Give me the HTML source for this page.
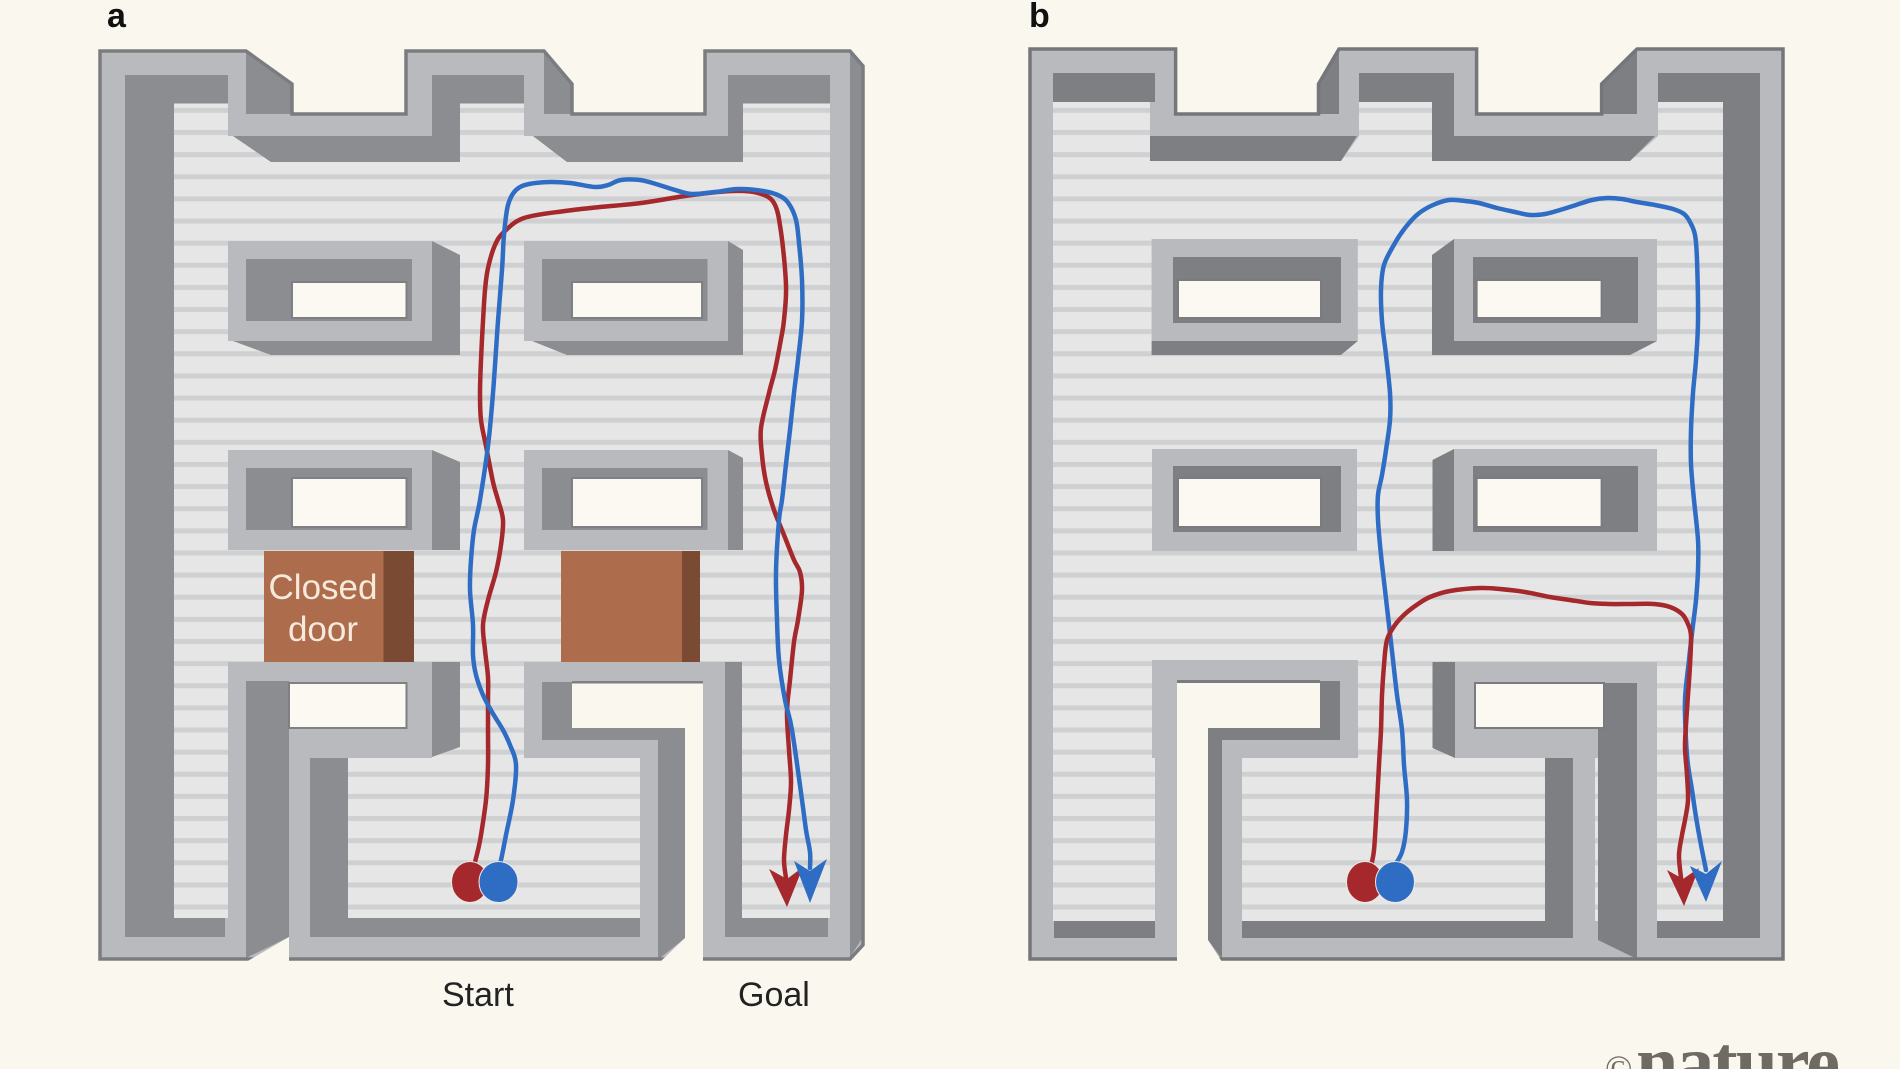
<!DOCTYPE html>
<html><head><meta charset="utf-8"><style>
html,body{margin:0;padding:0;background:#faf8ee;overflow:hidden}
svg{display:block}
</style></head><body>
<svg width="1900" height="1069" viewBox="0 0 1900 1069" xmlns="http://www.w3.org/2000/svg">
<defs>
<pattern id="fl" patternUnits="userSpaceOnUse" x="0" y="130" width="1900" height="22.13">
<rect width="1900" height="22.13" fill="#e6e6e7"/><rect width="1900" height="5" fill="#cfd0d2"/>
</pattern>
</defs>
<rect width="1900" height="1069" fill="#faf8ee"/>

<!-- ================= PANEL A ================= -->
<g>
<polygon fill="#b9babd" points="100,51 246,51 292,84 292,114 406,114 406,51 544,51 572,84 572,114 705,114 705,51 850,51 863,66 863,945 850,959 100,959"/>
<rect x="174" y="103.5" width="656" height="814.5" fill="url(#fl)"/>
<g fill="#b9babd">
<polygon points="228,103.5 460,103.5 460,162 271,162 233,136 228,136"/>
<polygon points="524,103.5 743,103.5 743,162 567,162 533,136 524,136"/>
<rect x="228" y="241" width="204" height="100"/>
<rect x="524" y="241" width="204" height="100"/>
<rect x="228" y="450" width="204" height="100"/>
<rect x="524" y="450" width="204" height="100"/>
<rect x="228" y="662" width="204" height="96"/>
<rect x="228" y="758" width="18" height="160"/>
<rect x="289" y="758" width="21" height="160"/>
<rect x="524" y="662" width="201" height="96"/>
<rect x="640" y="758" width="18" height="160"/>
<rect x="703" y="758" width="22" height="160"/>
</g>
<rect x="292" y="100" width="114" height="14" fill="#faf8ee"/>
<rect x="572" y="100" width="133" height="14" fill="#faf8ee"/>
<g fill="#8c8d90">
<polygon points="125,75 228,75 228,103.5 174,103.5 174,918 225,918 225,937 125,937"/>
<polygon points="246,51 292,84 292,114 246,114"/>
<polygon points="233,136 432,136 432,75 524,75 524,103.5 460,103.5 460,162 271,162"/>
<polygon points="544,51 572,84 572,114 544,114"/>
<polygon points="533,136 728,136 728,75 830,75 830,103.5 743,103.5 743,162 567,162"/>
<polygon points="850,53 863,68 863,937 850,957"/>
<polygon points="432,241 460,255 460,355 271,355 233,341 432,341"/>
<polygon points="728,241 743,250 743,355 567,355 532,341 728,341"/>
<polygon points="432,450 460,462 460,550 432,550"/>
<polygon points="728,450 743,458 743,550 728,550"/>
<rect x="246" y="259" width="166" height="62"/>
<rect x="542" y="259" width="165.5" height="62"/>
<rect x="246" y="468" width="166" height="62"/>
<rect x="542" y="468" width="165.5" height="62"/>
<polygon points="432,662 460,662 460,747 432,757"/>
<polygon points="246,681 289,681 289,937 246,958"/>
<polygon points="310,758 348,758 348,918 640,918 640,937 310,937"/>
<polygon points="542,682 572,682 572,728 685,728 685,938 660,958 658,958 658,740 542,740"/>
<polygon points="725,662 742,662 742,918 828,918 828,937 725,937"/>
</g>
<polygon fill="none" stroke="#7b7c7f" stroke-width="3.5" stroke-linejoin="miter" points="100,51 246,51 292,84 292,114 406,114 406,51 544,51 572,84 572,114 705,114 705,51 850,51 863,66 863,945 850,959 100,959"/>
<g fill="#fbf9f1" stroke="#7f8083" stroke-width="2">
<rect x="292" y="282" width="114.5" height="36"/>
<rect x="572" y="282" width="130" height="36"/>
<rect x="292" y="478" width="114.5" height="49"/>
<rect x="572" y="478" width="130" height="49"/>
<rect x="289" y="683" width="117.5" height="45"/>
</g>
<polygon fill="#faf8ee" points="572,683 703,683 703,962 660,962 685,938 685,728 572,728"/>
<polygon fill="#faf8ee" points="246,962 289,937 289,962"/>
<rect x="572" y="681" width="131" height="2.5" fill="#7f8083"/>
<!-- doors -->
<rect x="264" y="551" width="120" height="111" fill="#ad6c4b"/>
<rect x="383.5" y="551" width="30.5" height="111" fill="#7b4a33"/>
<rect x="561" y="551" width="121" height="111" fill="#ad6c4b"/>
<rect x="682" y="551" width="18" height="111" fill="#7b4a33"/>
<text x="323" y="599" font-family="Liberation Sans, sans-serif" font-size="35" fill="#f7e9db" text-anchor="middle">Closed</text>
<text x="323" y="641" font-family="Liberation Sans, sans-serif" font-size="35" fill="#f7e9db" text-anchor="middle">door</text>
<!-- paths -->
<g fill="none" stroke-width="4.5" stroke-linejoin="round" stroke-linecap="round">
<polyline class="sm" stroke="#a4282c" points="475,862 478,850 481,835 486,800 488,765 488,730 488,700 488,677 485,650 483,625 488,600 496,572 501,545 503,520 498,500 493,482 486,446 481,420 480,393 481,360 483,321 485,290 488,268 495,245 504,232 524,218 565,211 600,207 641,203 692,195 733,191 758,193 774,203 781,232 786,285 784,320 781,339 775,370 769,393 761,428 762,455 766,482 774,510 784,535 794,560 800,572 802,590 798,620 794,642 790,680 787,712 789,750 791,782 789,810 786,835 784,860 786,878"/>
<polyline class="sm" stroke="#2f6dc4" points="498,868 501,860 506,835 513,800 516,765 510,745 503,730 492,712 483,695 476,675 473,655 473,625 470,590 471,560 474,530 480,500 488,446 493,393 498,321 502,270 504,235 508,205 516,190 529,184 550,182 570,183 595,187 608,185 621,180 640,180 656,184 675,190 692,194 715,192 738,189 763,191 780,196 789,204 796,220 799,243 802,280 802,321 798,360 794,393 790,430 786,464 782,500 779,520 776,572 777,620 779,660 785,700 792,730 802,800 806,830 810,852 810,868"/>
</g>
<polygon fill="#a4282c" points="769,869 787,879 803,867 787,907"/>
<polygon fill="#2f6dc4" points="794,861 810,871 827,859 810,903"/>
<ellipse cx="470" cy="882" rx="18.5" ry="20.5" fill="#a4282c" stroke="#efe9e6" stroke-width="1"/>
<ellipse cx="498.5" cy="882" rx="19.5" ry="20.5" fill="#2f6dc4" stroke="#efe9e6" stroke-width="1"/>
<text x="442" y="1006" font-family="Liberation Sans, sans-serif" font-size="34" fill="#222">Start</text>
<text x="738" y="1006" font-family="Liberation Sans, sans-serif" font-size="34" fill="#222">Goal</text>
<text x="107" y="27" font-family="Liberation Sans, sans-serif" font-weight="bold" font-size="34" fill="#111">a</text>
</g>

<!-- ================= PANEL B ================= -->
<g>
<polygon fill="#b9babd" points="1030,49 1175.6,49 1175.6,114 1318.5,114 1318.5,84 1339,49 1476.6,49 1476.6,114 1601.6,114 1601.6,84 1637,49 1783,49 1783,959 1030,959"/>
<rect x="1053" y="102" width="670" height="819" fill="url(#fl)"/>
<g fill="#b9babd">
<polygon points="1150,102 1359,102 1359,136 1341,161 1150,161"/>
<polygon points="1432,102 1658,102 1658,136 1630,161 1432,161"/>
<rect x="1151.6" y="239" width="206.2" height="102"/>
<rect x="1454" y="239" width="203" height="102"/>
<rect x="1152" y="449" width="205" height="102"/>
<rect x="1454" y="449" width="203" height="102"/>
<rect x="1152" y="660" width="206" height="98"/>
<rect x="1155" y="758" width="22" height="163"/>
<rect x="1222" y="758" width="20" height="163"/>
<rect x="1455" y="662" width="202" height="96"/>
<rect x="1573" y="758" width="22" height="163"/>
<rect x="1637" y="758" width="20" height="163"/>
</g>
<rect x="1175.6" y="98" width="142.9" height="16" fill="#faf8ee"/>
<rect x="1476.6" y="98" width="125" height="16" fill="#faf8ee"/>
<g fill="#7e7f82">
<rect x="1053" y="73" width="102" height="29"/>
<polygon points="1150,136 1357,136 1341,161 1150,161"/>
<polygon points="1318.5,84 1339,49 1339,114 1318.5,114"/>
<polygon points="1359,73 1454,73 1454,136 1655,136 1630,161 1432,161 1432,102 1359,102"/>
<polygon points="1601.6,84 1637,49 1637,114 1601.6,114"/>
<polygon points="1658,73 1760,73 1760,938 1657,938 1657,921 1723,921 1723,102 1658,102"/>
<rect x="1054" y="921" width="101" height="17"/>
<polygon points="1151.6,341 1357.8,341 1341,355 1151.6,355"/>
<polygon points="1432,255 1454,239 1454,341 1432,341"/>
<polygon points="1432,341 1657,341 1630,355 1432,355"/>
<rect x="1173" y="257" width="168" height="66"/>
<rect x="1473" y="257" width="165" height="66"/>
<polygon points="1432.5,460 1454,449 1454,551 1432.5,551"/>
<rect x="1173" y="466" width="168" height="66"/>
<rect x="1473" y="466" width="165" height="66"/>
<polygon points="1320,681 1340,681 1340,740 1222,740 1222,959 1208,940 1208,728 1320,728"/>
<polygon points="1545,758 1573,758 1573,938 1242,938 1242,921 1545,921"/>
<polygon points="1432.5,662 1455,662 1455,758 1432.5,748"/>
<polygon points="1604,683 1637,683 1637,959 1598,940 1598,728 1604,728"/>
</g>
<polygon fill="none" stroke="#75767a" stroke-width="3.5" points="1030,49 1175.6,49 1175.6,114 1318.5,114 1318.5,84 1339,49 1476.6,49 1476.6,114 1601.6,114 1601.6,84 1637,49 1783,49 1783,959 1030,959"/>
<g fill="#fbf9f1" stroke="#7a7b7e" stroke-width="2">
<rect x="1178" y="280" width="143" height="38"/>
<rect x="1476.6" y="280" width="125" height="38"/>
<rect x="1178" y="478" width="143" height="49"/>
<rect x="1476.6" y="478" width="125" height="49"/>
<rect x="1475" y="683" width="129" height="45"/>
</g>
<polygon fill="#faf8ee" points="1177,683 1320,683 1320,728 1208,728 1208,940 1222,962 1177,962"/>
<rect x="1177" y="680" width="143" height="3" fill="#7a7b7e"/>
<!-- paths -->
<g fill="none" stroke-width="4.5" stroke-linejoin="round" stroke-linecap="round">
<polyline class="sm" stroke="#2f6dc4" points="1395,865 1402,852 1406,830 1407,800 1404,765 1402,730 1397,695 1393,660 1389,625 1385,590 1381,555 1378,520 1378,495 1382,475 1386,450 1390,420 1390,393 1386,355 1382,321 1381,290 1384,265 1395,243 1405,228 1418,214 1433,205 1449,200 1465,201 1479,203 1497,208 1515,212 1530,215 1545,214 1560,210 1576,205 1592,200 1607,198 1622,199 1637,202 1655,205 1673,209 1684,214 1690,222 1695,235 1697,260 1698,321 1696,360 1693,393 1691,430 1691,464 1694,500 1698,540 1698,570 1696,600 1693,625 1689,660 1685,700 1686,740 1688,765 1692,790 1696,817 1701,845 1706,870"/>
<polyline class="sm" stroke="#a4282c" points="1372,862 1374,850 1376,820 1379,765 1381,730 1382,695 1384,665 1387,640 1395,625 1405,614 1418,604 1430,597 1450,591 1480,588 1500,589 1525,592 1550,597 1570,600 1590,603 1609,604 1630,604 1654,604 1670,607 1682,614 1688,624 1691,636 1690,665 1688,695 1686,725 1685,748 1687,775 1688,800 1685,820 1682,835 1679,855 1681,878"/>
</g>
<polygon fill="#a4282c" points="1667,870 1683,879 1699,868 1684,906"/>
<polygon fill="#2f6dc4" points="1690,866 1706,874 1722,861 1706,902"/>
<ellipse cx="1365" cy="882" rx="18.5" ry="20.5" fill="#a4282c" stroke="#efe9e6" stroke-width="1"/>
<ellipse cx="1395" cy="882" rx="19.5" ry="20.5" fill="#2f6dc4" stroke="#efe9e6" stroke-width="1"/>
<text x="1029" y="27" font-family="Liberation Sans, sans-serif" font-weight="bold" font-size="34" fill="#111">b</text>
</g>

<text x="1605" y="1080" font-family="Liberation Serif, serif" font-size="36" fill="#6f6a64">©</text>
<text x="1636" y="1088" font-family="Liberation Serif, serif" font-size="76" font-weight="bold" letter-spacing="-2" fill="#6f6a64">nature</text>
</svg>
<script>
(function(){
  var NS='http://www.w3.org/2000/svg';
  var list=document.querySelectorAll('polyline.sm');
  for(var k=0;k<list.length;k++){
    var pl=list[k];
    var pts=pl.getAttribute('points').trim().split(/\s+/).map(function(s){return s.split(',').map(Number);});
    var d='M'+pts[0][0]+','+pts[0][1];
    for(var i=0;i<pts.length-1;i++){
      var p0=pts[Math.max(i-1,0)],p1=pts[i],p2=pts[i+1],p3=pts[Math.min(i+2,pts.length-1)];
      var c1x=p1[0]+(p2[0]-p0[0])/6,c1y=p1[1]+(p2[1]-p0[1])/6;
      var c2x=p2[0]-(p3[0]-p1[0])/6,c2y=p2[1]-(p3[1]-p1[1])/6;
      d+=' C'+c1x.toFixed(1)+','+c1y.toFixed(1)+' '+c2x.toFixed(1)+','+c2y.toFixed(1)+' '+p2[0]+','+p2[1];
    }
    var p=document.createElementNS(NS,'path');
    p.setAttribute('d',d);
    p.setAttribute('stroke',pl.getAttribute('stroke'));
    pl.parentNode.insertBefore(p,pl);
    pl.parentNode.removeChild(pl);
  }
})();
</script>
</body></html>
